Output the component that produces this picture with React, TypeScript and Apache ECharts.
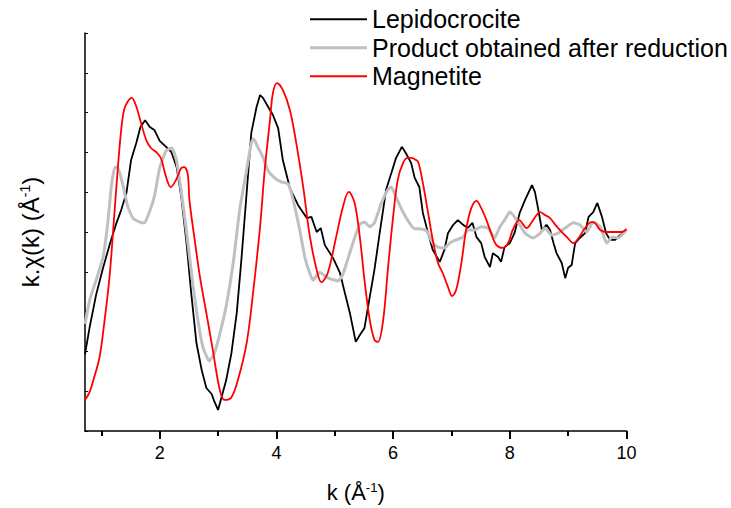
import React, { useEffect, useRef } from 'react';
import * as echarts from 'echarts';

// Lepidocrocite
const lepK = [0.72,0.80,0.91,1.03,1.14,1.26,1.34,1.43,1.51,1.60,
  1.67,1.75,1.83,1.91,2.00,2.11,2.20,2.29,2.37,2.46,
  2.54,2.63,2.72,2.80,2.89,2.94,3.00,3.06,3.14,3.23,
  3.32,3.40,3.49,3.57,3.66,3.72,3.77,3.86,3.94,4.03,
  4.11,4.23,4.37,4.52,4.60,4.69,4.76,4.83,4.97,5.09,
  5.17,5.26,5.36,5.43,5.51,5.60,5.68,5.77,5.88,5.97,
  6.05,6.15,6.22,6.31,6.37,6.45,6.51,6.60,6.68,6.80,
  6.88,6.94,7.03,7.11,7.20,7.28,7.36,7.43,7.51,7.57,
  7.66,7.71,7.80,7.85,7.91,8.00,8.08,8.17,8.26,8.38,
  8.43,8.49,8.55,8.63,8.69,8.75,8.80,8.89,8.95,9.00,
  9.06,9.12,9.20,9.29,9.35,9.43,9.50,9.58,9.65,9.72,
  9.80,9.89,10.00];
const lepV = [-3.07,-2.39,-1.58,-0.90,-0.33,0.23,0.55,0.98,1.81,2.24,
  2.64,2.81,2.64,2.56,2.29,2.14,2.01,1.63,0.88,-0.28,
  -1.53,-2.79,-3.47,-3.92,-4.07,-4.27,-4.47,-4.15,-3.72,-3.04,
  -2.04,-0.70,0.98,2.49,3.14,3.44,3.37,3.14,2.94,2.61,
  1.81,1.11,0.68,0.35,0.38,0,0.10,-0.33,-0.65,-1.03,
  -1.51,-2.04,-2.76,-2.59,-2.41,-1.63,-0.95,-0.03,1.06,1.48,
  1.86,2.14,1.98,1.73,1.36,1.13,0.48,-0.03,-0.45,-0.75,
  -0.45,-0.03,0.18,0.30,0.18,0.10,0.23,-0.13,-0.28,-0.63,
  -0.88,-0.53,-0.63,-0.75,-0.38,-0.28,-0.03,0.48,0.80,1.18,
  1.01,0.55,0.05,0.18,0.05,-0.28,-0.53,-0.78,-1.16,-0.90,
  -0.83,-0.28,-0.15,-0.03,0.38,0.50,0.73,0.38,-0.03,-0.20,
  -0.20,-0.08,0.05];

// Product obtained after reduction
const prodK = [0.72,0.80,0.91,1.03,1.11,1.17,1.23,1.28,1.37,1.45,
  1.54,1.66,1.74,1.83,1.91,2.00,2.11,2.21,2.29,2.37,
  2.46,2.57,2.66,2.74,2.85,2.94,3.03,3.14,3.26,3.37,
  3.49,3.57,3.61,3.68,3.77,3.85,3.97,4.08,4.20,4.28,
  4.40,4.49,4.57,4.63,4.74,4.89,5.06,5.14,5.23,5.34,
  5.43,5.51,5.60,5.68,5.80,5.91,5.97,6.05,6.17,6.28,
  6.37,6.46,6.57,6.68,6.77,6.88,6.97,7.08,7.20,7.28,
  7.40,7.51,7.63,7.74,7.83,7.91,8.00,8.08,8.17,8.26,
  8.40,8.52,8.60,8.72,8.83,8.95,9.09,9.20,9.32,9.43,
  9.55,9.66,9.75,9.86,9.95,10.00];
const prodV = [-2.31,-1.71,-1.21,-0.63,0.23,1.13,1.63,1.63,1.18,0.65,
  0.35,0.25,0.23,0.53,0.90,1.61,2.04,2.11,1.78,1.01,
  0,-1.33,-2.26,-2.89,-3.24,-3.04,-2.56,-1.86,-0.78,0.55,
  1.56,2.24,2.34,2.14,1.88,1.56,1.36,1.26,1.21,0.85,
  0.05,-0.65,-1.03,-1.21,-1.01,-1.16,-1.23,-1.06,-0.65,-0.15,
  0.20,0.25,0.13,0.23,0.73,1.06,1.13,0.88,0.50,0.23,
  0.08,0.08,0.03,-0.28,-0.38,-0.40,-0.28,-0.20,-0.13,0.05,
  0.05,0.13,0.10,-0.15,0.13,0.30,0.50,0.38,0.18,-0.03,
  -0.15,-0.03,0.10,-0.08,-0.03,0.10,0.23,0.18,0,0.25,
  0.13,-0.28,-0.13,-0.15,-0.03,0.05];

// Magnetite
const magK = [0.72,0.79,0.88,0.97,1.05,1.14,1.22,1.28,1.34,1.39,
  1.45,1.52,1.59,1.68,1.77,1.85,1.94,2.02,2.11,2.19,
  2.28,2.37,2.42,2.48,2.51,2.60,2.69,2.80,2.91,3.03,
  3.11,3.23,3.34,3.49,3.60,3.72,3.80,3.89,3.94,4.01,
  4.11,4.23,4.34,4.46,4.57,4.69,4.77,4.88,5.02,5.14,
  5.24,5.34,5.43,5.51,5.60,5.68,5.74,5.83,5.91,6.00,
  6.08,6.17,6.25,6.31,6.37,6.43,6.51,6.60,6.68,6.77,
  6.85,6.94,7.01,7.08,7.17,7.25,7.34,7.43,7.51,7.60,
  7.68,7.77,7.88,7.97,8.05,8.16,8.29,8.40,8.52,8.60,
  8.69,8.78,8.86,8.98,9.09,9.18,9.29,9.40,9.46,9.55,
  9.66,9.80,9.92,10.00];
const magV = [-4.22,-4.05,-3.64,-3.14,-2.29,-1.13,0.38,1.56,2.56,3.07,
  3.27,3.37,3.19,2.74,2.31,2.11,2.01,1.86,1.38,1.13,
  1.31,1.61,1.63,1.46,0.80,-0.20,-1.13,-2.04,-2.96,-3.97,
  -4.22,-4.15,-3.72,-2.79,-1.53,0.13,1.56,2.81,3.49,3.74,
  3.57,3.07,2.24,1.13,-0.08,-0.95,-1.26,-1.03,-0.15,0.63,
  1.01,0.73,-0.13,-1.21,-2.21,-2.71,-2.76,-2.21,-0.95,0.38,
  1.31,1.73,1.86,1.86,1.83,1.76,1.23,0.48,-0.20,-0.78,
  -1.03,-1.38,-1.61,-1.46,-0.78,0.05,0.60,0.78,0.60,0.30,
  -0.03,-0.33,-0.40,-0.28,0.05,0.30,0.10,0.30,0.50,0.43,
  0.35,0.18,0.05,-0.13,-0.28,-0.15,0.10,0.25,0.23,0.05,
  0,0,0,0.08];

const seriesNames = ['Lepidocrocite', 'Product obtained after reduction', 'Magnetite'];
const majorTicks = [2, 4, 6, 8, 10];
const minorTicks = [1, 3, 5, 7, 9];
const xMin = 0.72;
const xMax = 10;

const zip = (k: number[], v: number[]) => k.map((x, i) => [x, v[i]]);

const FONT = '"Liberation Sans", Arial, sans-serif';
const thinIcon = 'path://M0,0H57V1.8H0Z';
const thickIcon = 'path://M0,0H57V3H0Z';

export default function App() {
  const ref = useRef<HTMLDivElement>(null);
  useEffect(() => {
    if (!ref.current) return;
    const chart = echarts.init(ref.current, undefined, { renderer: 'svg' });
    chart.setOption({
      animation: false,
      backgroundColor: '#ffffff',
      textStyle: { fontFamily: FONT, color: '#000' },
      grid: { left: 85, right: 104.5, top: 33, bottom: 77 },
      legend: {
        orient: 'vertical',
        left: 305,
        top: 0,
        itemWidth: 57,
        itemHeight: 14,
        itemGap: 0,
        data: [
          { name: seriesNames[0], icon: thinIcon },
          { name: seriesNames[1], icon: thickIcon },
          { name: seriesNames[2], icon: thinIcon },
        ],
        textStyle: { fontSize: 25, color: '#000', fontFamily: FONT, lineHeight: 28.5 },
      },
      xAxis: [
        {
          type: 'value',
          min: xMin,
          max: xMax,
          position: 'bottom',
          name: 'k (Å{sup|-1})',
          nameLocation: 'middle',
          nameGap: 50,
          nameTextStyle: {
            fontSize: 22,
            color: '#000',
            fontFamily: FONT,
            rich: { sup: { fontSize: 13, color: '#000', fontFamily: FONT, verticalAlign: 'top' } },
          },
          axisLine: { show: true, onZero: false, lineStyle: { color: '#000', width: 1.5 } },
          axisTick: { show: true, inside: false, length: 8, customValues: majorTicks, lineStyle: { color: '#000', width: 2 } },
          axisLabel: { show: true, customValues: majorTicks, fontSize: 18, color: '#000', fontFamily: FONT, margin: 13 },
          splitLine: { show: false },
        },
        {
          type: 'value',
          min: xMin,
          max: xMax,
          position: 'bottom',
          axisLine: { show: false, onZero: false },
          axisTick: { show: true, inside: false, length: 5, customValues: minorTicks, lineStyle: { color: '#000', width: 2 } },
          axisLabel: { show: false },
          splitLine: { show: false },
        },
      ],
      yAxis: {
        type: 'value',
        min: -5,
        max: 5,
        interval: 1,
        name: 'k.χ(k) (Å{sup|-1})',
        nameLocation: 'middle',
        nameGap: 43,
        nameRotate: 90,
        nameTextStyle: {
          fontSize: 24,
          color: '#000',
          fontFamily: FONT,
          rich: { sup: { fontSize: 14, color: '#000', fontFamily: FONT, verticalAlign: 'top' } },
        },
        axisLine: { show: true, onZero: false, lineStyle: { color: '#000', width: 1.5 } },
        axisTick: { show: true, inside: true, length: 3, lineStyle: { color: '#000', width: 1 } },
        axisLabel: { show: false },
        splitLine: { show: false },
      },
      series: [
        {
          name: seriesNames[0],
          type: 'line',
          data: zip(lepK, lepV),
          symbol: 'none',
          lineStyle: { color: '#000000', width: 1.8 },
          itemStyle: { color: '#000000' },
          z: 2,
        },
        {
          name: seriesNames[1],
          type: 'line',
          data: zip(prodK, prodV),
          symbol: 'none',
          smooth: 0.15,
          lineStyle: { color: '#c0c0c0', width: 3 },
          itemStyle: { color: '#c0c0c0' },
          z: 3,
        },
        {
          name: seriesNames[2],
          type: 'line',
          data: zip(magK, magV),
          symbol: 'none',
          smooth: 0.35,
          lineStyle: { color: '#ff0000', width: 1.8 },
          itemStyle: { color: '#ff0000' },
          z: 4,
        },
      ],
    });
    return () => chart.dispose();
  }, []);
  return (
    <div
      ref={ref}
      style={{ position: 'fixed', left: 0, top: 0, width: 731, height: 508, background: '#fff' }}
    />
  );
}
